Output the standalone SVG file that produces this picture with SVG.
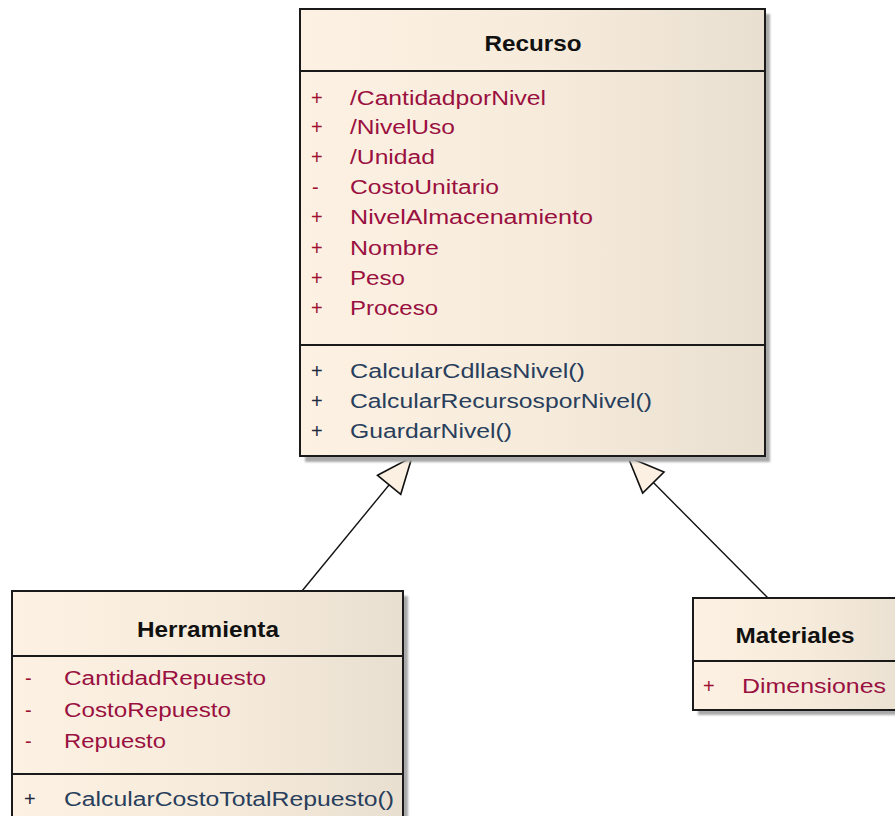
<svg xmlns="http://www.w3.org/2000/svg" width="895" height="816" viewBox="0 0 895 816">
  <defs>
    <linearGradient id="classFill" x1="0" y1="0" x2="1" y2="0">
      <stop offset="0" stop-color="#FCF1E2"/>
      <stop offset="0.5" stop-color="#F7ECDC"/>
      <stop offset="1" stop-color="#E9DFD0"/>
    </linearGradient>
    <filter id="soft" x="-5%" y="-5%" width="110%" height="110%">
      <feGaussianBlur stdDeviation="1.2"/>
    </filter>
    <!-- hollow triangle for generalization -->
    <marker id="gen" markerUnits="userSpaceOnUse" markerWidth="42" markerHeight="36" viewBox="-3 -18 42 36" refX="36" refY="0" orient="auto">
      <path d="M0,-15 L36,0 L0,15 Z" fill="#FBF0E1" stroke="#111" stroke-width="1.6" stroke-linejoin="miter"/>
    </marker>
  </defs>
  <style>
    .shadow { fill: #A9A9A9; filter: url(#soft); }
    .box { fill: url(#classFill); stroke: #1A1A1A; stroke-width: 2; }
    .sep { stroke: #1A1A1A; stroke-width: 2; }
    .title { font-family: "Liberation Sans", Arial, sans-serif; font-weight: bold; font-size: 22px; fill: #111; text-anchor: middle; }
    .attr { font-family: "Liberation Sans", Arial, sans-serif; font-size: 20px; fill: #9A1040; }
    .meth { font-family: "Liberation Sans", Arial, sans-serif; font-size: 20px; fill: #283E5C; }
    .vis { font-family: "Liberation Sans", Arial, sans-serif; font-size: 20px; }
    .vis-a { fill: #A01030; }
    .vis-m { fill: #1E2A40; }
    .edge { stroke: #111; stroke-width: 1.4; fill: none; }
  </style>

  <!-- Connectors: generalization arrows -->
  <g id="connectors">
    <line class="edge" x1="302" y1="591" x2="412" y2="457" marker-end="url(#gen)"/>
    <line class="edge" x1="768" y1="598" x2="628" y2="457" marker-end="url(#gen)"/>
  </g>

  <!-- Recurso -->
  <g id="recurso">
    <rect class="shadow" x="305" y="14" width="465" height="448"/>
    <rect class="box" x="300" y="9" width="465" height="447"/>
    <line class="sep" x1="300" y1="71" x2="765" y2="71"/>
    <line class="sep" x1="300" y1="345" x2="765" y2="345"/>
    <text class="title" x="533" y="51" textLength="97" lengthAdjust="spacingAndGlyphs">Recurso</text>

    <text class="vis vis-a" x="311" y="105">+</text>
    <text class="attr" x="350" y="105" textLength="196" lengthAdjust="spacingAndGlyphs">/CantidadporNivel</text>
    <text class="vis vis-a" x="311" y="134">+</text>
    <text class="attr" x="350" y="134" textLength="105" lengthAdjust="spacingAndGlyphs">/NivelUso</text>
    <text class="vis vis-a" x="311" y="164">+</text>
    <text class="attr" x="350" y="164" textLength="85" lengthAdjust="spacingAndGlyphs">/Unidad</text>
    <text class="vis vis-a" x="312" y="194">-</text>
    <text class="attr" x="350" y="194" textLength="149" lengthAdjust="spacingAndGlyphs">CostoUnitario</text>
    <text class="vis vis-a" x="311" y="224">+</text>
    <text class="attr" x="350" y="224" textLength="243" lengthAdjust="spacingAndGlyphs">NivelAlmacenamiento</text>
    <text class="vis vis-a" x="311" y="255">+</text>
    <text class="attr" x="350" y="255" textLength="89" lengthAdjust="spacingAndGlyphs">Nombre</text>
    <text class="vis vis-a" x="311" y="285">+</text>
    <text class="attr" x="350" y="285" textLength="55" lengthAdjust="spacingAndGlyphs">Peso</text>
    <text class="vis vis-a" x="311" y="315">+</text>
    <text class="attr" x="350" y="315" textLength="88" lengthAdjust="spacingAndGlyphs">Proceso</text>

    <text class="vis vis-m" x="311" y="378">+</text>
    <text class="meth" x="350" y="378" textLength="235" lengthAdjust="spacingAndGlyphs">CalcularCdllasNivel()</text>
    <text class="vis vis-m" x="311" y="408">+</text>
    <text class="meth" x="350" y="408" textLength="302" lengthAdjust="spacingAndGlyphs">CalcularRecursosporNivel()</text>
    <text class="vis vis-m" x="311" y="438">+</text>
    <text class="meth" x="350" y="438" textLength="162" lengthAdjust="spacingAndGlyphs">GuardarNivel()</text>
  </g>

  <!-- Herramienta -->
  <g id="herramienta">
    <rect class="shadow" x="17" y="596" width="391" height="240"/>
    <rect class="box" x="12" y="591" width="391" height="240"/>
    <line class="sep" x1="12" y1="656" x2="403" y2="656"/>
    <line class="sep" x1="12" y1="774" x2="403" y2="774"/>
    <text class="title" x="208" y="637" textLength="142" lengthAdjust="spacingAndGlyphs">Herramienta</text>

    <text class="vis vis-a" x="25" y="685">-</text>
    <text class="attr" x="64" y="685" textLength="202" lengthAdjust="spacingAndGlyphs">CantidadRepuesto</text>
    <text class="vis vis-a" x="25" y="717">-</text>
    <text class="attr" x="64" y="717" textLength="167" lengthAdjust="spacingAndGlyphs">CostoRepuesto</text>
    <text class="vis vis-a" x="25" y="748">-</text>
    <text class="attr" x="64" y="748" textLength="102" lengthAdjust="spacingAndGlyphs">Repuesto</text>

    <text class="vis vis-m" x="24" y="806">+</text>
    <text class="meth" x="64" y="806" textLength="330" lengthAdjust="spacingAndGlyphs">CalcularCostoTotalRepuesto()</text>
  </g>

  <!-- Materiales -->
  <g id="materiales">
    <rect class="shadow" x="698" y="603" width="220" height="112"/>
    <rect class="box" x="693" y="598" width="220" height="112"/>
    <line class="sep" x1="693" y1="661" x2="913" y2="661"/>
    <text class="title" x="795" y="643" textLength="119" lengthAdjust="spacingAndGlyphs">Materiales</text>
    <text class="vis vis-a" x="703" y="693">+</text>
    <text class="attr" x="742" y="693" textLength="144" lengthAdjust="spacingAndGlyphs">Dimensiones</text>
  </g>
</svg>
